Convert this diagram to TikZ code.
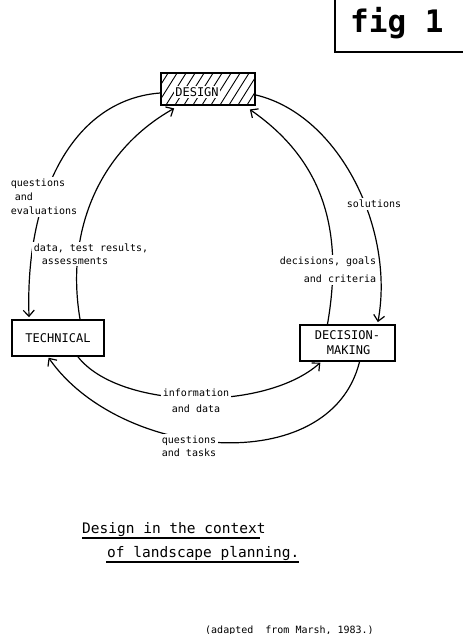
\documentclass[tikz,border=0pt]{standalone}
\usepackage{fontspec}
\setmonofont{DejaVu Sans Mono}
\usetikzlibrary{arrows.meta}
\begin{document}
\begin{tikzpicture}[x=1pt,y=-1pt,
  box/.style={draw=black, line width=1.8pt, rectangle, inner sep=0pt},
  boxtext/.style={font=\ttfamily\fontsize{12}{15}\selectfont},
  flow/.style={line width=1.2pt, -{Straight Barb[length=6pt,width=11pt]}},
  lbl/.style={font=\ttfamily\fontsize{10}{#1}\selectfont, fill=white, inner sep=2pt},
  lbl/.default=13,
  hatch/.style={line width=0.9pt},
  caption/.style={font=\ttfamily\fontsize{14.5}{15}\selectfont, anchor=base west, inner sep=0pt},
  underline/.style={line width=1.4pt}]

\useasboundingbox (0,0) rectangle (463,634);
\fill[white] (0,0) rectangle (463,634);

% figure number in its corner frame
\node[font=\ttfamily\bfseries\fontsize{31}{31}\selectfont, anchor=base west, inner sep=0pt] (fig) at (350,33) {fig 1};
\draw[line width=2.5pt] (335,0) -- (335,52) -- (463,52);

% the three boxes
\node[box, minimum width=94pt, minimum height=32pt,
  path picture={
    \foreach \i in {-40,-31,...,110}
      \draw[hatch] ([xshift=\i pt]path picture bounding box.south west) -- ++(22pt,35pt);
  }] (design) at (208,89) {};
\node[boxtext, fill=white, inner sep=1pt] (designtext) at (197,92) {DESIGN};

\node[box, boxtext, minimum width=92pt, minimum height=36pt] (technical) at (58,338) {TECHNICAL};
\node[box, boxtext, minimum width=95pt, minimum height=36pt, align=left] (decision) at (347.5,343) {DECISION-\\\hspace{12pt}MAKING};

% flows between the boxes
\draw[flow, shorten >=2pt] ([yshift=-4pt]design.west) .. controls (70,100) and (25,200) .. ([xshift=18pt]technical.north west);
\draw[flow, shorten >=1pt] ([xshift=22pt]technical.north) .. controls (65,230) and (100,150) .. ([xshift=-33pt,yshift=-2pt]design.south);
\draw[flow, shorten >=2pt] ([yshift=-6pt]design.east) .. controls (340,115) and (395,230) .. ([xshift=30pt]decision.north);
\draw[flow, shorten >=1pt] ([xshift=-20pt]decision.north) .. controls (342,240) and (330,165) .. ([xshift=41pt,yshift=-3pt]design.south);
\draw[flow, shorten >=1pt] ([xshift=20pt]technical.south) .. controls (120,410) and (265,412) .. ([xshift=22pt]decision.south west);
\draw[flow, shorten >=1pt] ([xshift=12pt]decision.south) .. controls (330,480) and (120,460) .. ([xshift=-10pt]technical.south);

% labels on the flows
\node[lbl=14, align=left] (qe) at (44,197) {questions\\\hspace{4pt}and\\evaluations};
\node[lbl=13, align=left] (dta) at (91,254) {data, test results,\\\hspace{8pt}assessments};
\node[lbl] (sol) at (374,204) {solutions};
\node[lbl=18, align=right] (dgc) at (328,270) {decisions, goals\\and criteria};
\node[lbl=16, align=center] (inf) at (196,401) {information\\and data};
\node[lbl=13, align=center] (qt) at (189,446) {questions\\and tasks};

% caption
\node[caption] (cap1) at (82,533) {Design in the context};
\node[caption] (cap2) at (107,557) {of landscape planning.};
\draw[underline] ([yshift=-5pt]cap1.base west) -- ([yshift=-5pt,xshift=-6pt]cap1.base east);
\draw[underline] ([yshift=-5pt,xshift=-1pt]cap2.base west) -- ([yshift=-5pt]cap2.base east);

% source note
\node[font=\ttfamily\fontsize{10}{12}\selectfont, anchor=base west, inner sep=0pt] (src) at (205,633) {(adapted\ \ from Marsh, 1983.)};
\end{tikzpicture}
\end{document}
